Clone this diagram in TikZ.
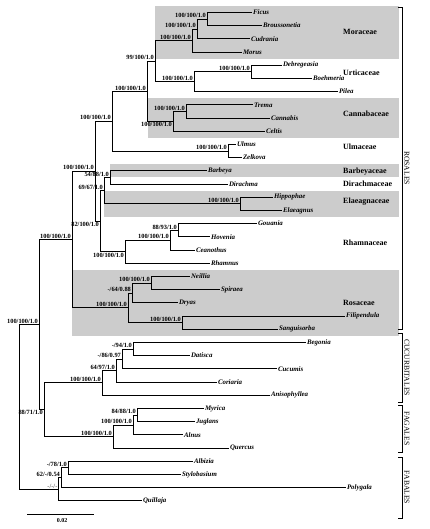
\documentclass[tikz,border=0pt]{standalone}
\usepackage{fontspec}
\setmainfont{Liberation Serif}
\usetikzlibrary{positioning}
\tikzstyle{taxon} = [
	anchor=west,
	inner sep=0.8pt,
	font=\fontsize{6.9}{7}\selectfont\bfseries\itshape
]
\tikzstyle{support} = [
	anchor=south east,
	inner sep=0.9pt,
	font=\fontsize{6.4}{7}\selectfont\bfseries
]
\tikzstyle{supportlow} = [support, anchor=north east]
\tikzstyle{famname} = [anchor=west, inner sep=0pt, font=\fontsize{8}{9}\selectfont\bfseries]
\tikzstyle{ordname} = [anchor=south, rotate=-90, inner sep=0.6pt, font=\fontsize{7.6}{8}\selectfont]
\tikzstyle{cladebox} = [fill=black!20, draw=none]
\tikzstyle{branch} = [line width=0.75pt]
\tikzstyle{ordbracket} = [line width=0.75pt]

\begin{document}
\begin{tikzpicture}[x=1pt, y=-1pt]
	\useasboundingbox (0,0) rectangle (429,529);

	\fill[cladebox] (155,6) rectangle (399,58.6);
	\fill[cladebox] (148,98.2) rectangle (399,137.8);
	\fill[cladebox] (110,164.2) rectangle (399,177.4);
	\fill[cladebox] (104,190.6) rectangle (399,217);
	\fill[cladebox] (72,269.8) rectangle (399,335.8);

	\node[taxon, name = Ficus] at (252,12.4) {Ficus};
	\node[taxon, name = Broussonetia] at (262,25.6) {Broussonetia};
	\node[taxon, name = Cudrania] at (250,38.8) {Cudrania};
	\node[taxon, name = Morus] at (242,52.0) {Morus};
	\node[taxon, name = Debregeasia] at (282,65.2) {Debregeasia};
	\node[taxon, name = Boehmeria] at (312,78.4) {Boehmeria};
	\node[taxon, name = Pilea] at (338,91.6) {Pilea};
	\node[taxon, name = Trema] at (253,104.8) {Trema};
	\node[taxon, name = Cannabis] at (270,118.0) {Cannabis};
	\node[taxon, name = Celtis] at (265,131.2) {Celtis};
	\node[taxon, name = Ulmus] at (236,144.4) {Ulmus};
	\node[taxon, name = Zelkova] at (242,157.6) {Zelkova};
	\node[taxon, name = Barbeya] at (207,170.8) {Barbeya};
	\node[taxon, name = Dirachma] at (228,184.0) {Dirachma};
	\node[taxon, name = Hippophae] at (273,197.2) {Hippophae};
	\node[taxon, name = Elaeagnus] at (282,210.4) {Elaeagnus};
	\node[taxon, name = Gouania] at (257,223.6) {Gouania};
	\node[taxon, name = Hovenia] at (210,236.8) {Hovenia};
	\node[taxon, name = Ceanothus] at (195,250.0) {Ceanothus};
	\node[taxon, name = Rhamnus] at (210,263.2) {Rhamnus};
	\node[taxon, name = Neillia] at (190,276.4) {Neillia};
	\node[taxon, name = Spiraea] at (220,289.6) {Spiraea};
	\node[taxon, name = Dryas] at (178,302.8) {Dryas};
	\node[taxon, name = Filipendula] at (345,316.0) {Filipendula};
	\node[taxon, name = Sanguisorba] at (278,329.2) {Sanguisorba};
	\node[taxon, name = Begonia] at (306,342.4) {Begonia};
	\node[taxon, name = Datisca] at (190,355.6) {Datisca};
	\node[taxon, name = Cucumis] at (277,368.8) {Cucumis};
	\node[taxon, name = Coriaria] at (217,382.0) {Coriaria};
	\node[taxon, name = Anisophyllea] at (270,395.2) {Anisophyllea};
	\node[taxon, name = Myrica] at (204,408.4) {Myrica};
	\node[taxon, name = Juglans] at (195,421.6) {Juglans};
	\node[taxon, name = Alnus] at (183,434.8) {Alnus};
	\node[taxon, name = Quercus] at (229,448.0) {Quercus};
	\node[taxon, name = Albizia] at (193,461.2) {Albizia};
	\node[taxon, name = Stylobasium] at (181,474.4) {Stylobasium};
	\node[taxon, name = Polygala] at (346,487.6) {Polygala};
	\node[taxon, name = Quillaja] at (142,500.8) {Quillaja};

	\coordinate (nFB) at (207,19.0);
	\coordinate (nFBC) at (197,28.9);
	\coordinate (nMor) at (192,40.45);
	\coordinate (nDB) at (251,71.8);
	\coordinate (nUrt) at (194,81.7);
	\coordinate (nMU) at (155,61.1);
	\coordinate (nTC) at (186,111.4);
	\coordinate (nCan) at (173,121.3);
	\coordinate (nMUC) at (147,91.2);
	\coordinate (nUlm) at (228,151.0);
	\coordinate (nMUCU) at (112,121.1);
	\coordinate (nBD) at (110,177.4);
	\coordinate (nEla) at (240,203.8);
	\coordinate (nBDE) at (104,190.6);
	\coordinate (nGH) at (178,230.2);
	\coordinate (nGHC) at (170,240.1);
	\coordinate (nRha) at (125,251.65);
	\coordinate (nX) at (100,221.1);
	\coordinate (nA) at (95,171.1);
	\coordinate (nNS) at (151,283.0);
	\coordinate (nNSD) at (132,292.9);
	\coordinate (nFS) at (182,322.6);
	\coordinate (nRos) at (128,307.75);
	\coordinate (nRosales) at (72,239.4);
	\coordinate (nBeD) at (133,349.0);
	\coordinate (nBDCu) at (122,358.9);
	\coordinate (nBDCC) at (116,370.45);
	\coordinate (nCuc) at (102,382.8);
	\coordinate (nMJ) at (137,415.0);
	\coordinate (nMJA) at (133,424.9);
	\coordinate (nFag) at (113,436.45);
	\coordinate (nCF) at (44,409.6);
	\coordinate (nB) at (39,324.5);
	\coordinate (nAS) at (68,467.8);
	\coordinate (nASP) at (61,477.7);
	\coordinate (nFab) at (58.5,489.25);
	\coordinate (root) at (19,406.9);

	\draw[branch] (nFB) |- (Ficus.west);
	\draw[branch] (nFB) |- (Broussonetia.west);
	\draw[branch] (nFBC) |- (nFB);
	\draw[branch] (nFBC) |- (Cudrania.west);
	\draw[branch] (nMor) |- (nFBC);
	\draw[branch] (nMor) |- (Morus.west);
	\draw[branch] (nDB) |- (Debregeasia.west);
	\draw[branch] (nDB) |- (Boehmeria.west);
	\draw[branch] (nUrt) |- (nDB);
	\draw[branch] (nUrt) |- (Pilea.west);
	\draw[branch] (nMU) |- (nMor);
	\draw[branch] (nMU) |- (nUrt);
	\draw[branch] (nTC) |- (Trema.west);
	\draw[branch] (nTC) |- (Cannabis.west);
	\draw[branch] (nCan) |- (nTC);
	\draw[branch] (nCan) |- (Celtis.west);
	\draw[branch] (nMUC) |- (nMU);
	\draw[branch] (nMUC) |- (nCan);
	\draw[branch] (nUlm) |- (Ulmus.west);
	\draw[branch] (nUlm) |- (Zelkova.west);
	\draw[branch] (nMUCU) |- (nMUC);
	\draw[branch] (nMUCU) |- (nUlm);
	\draw[branch] (nBD) |- (Barbeya.west);
	\draw[branch] (nBD) |- (Dirachma.west);
	\draw[branch] (nEla) |- (Hippophae.west);
	\draw[branch] (nEla) |- (Elaeagnus.west);
	\draw[branch] (nBDE) |- (nBD);
	\draw[branch] (nBDE) |- (nEla);
	\draw[branch] (nGH) |- (Gouania.west);
	\draw[branch] (nGH) |- (Hovenia.west);
	\draw[branch] (nGHC) |- (nGH);
	\draw[branch] (nGHC) |- (Ceanothus.west);
	\draw[branch] (nRha) |- (nGHC);
	\draw[branch] (nRha) |- (Rhamnus.west);
	\draw[branch] (nX) |- (nBDE);
	\draw[branch] (nX) |- (nRha);
	\draw[branch] (nA) |- (nMUCU);
	\draw[branch] (nA) |- (nX);
	\draw[branch] (nNS) |- (Neillia.west);
	\draw[branch] (nNS) |- (Spiraea.west);
	\draw[branch] (nNSD) |- (nNS);
	\draw[branch] (nNSD) |- (Dryas.west);
	\draw[branch] (nFS) |- (Filipendula.west);
	\draw[branch] (nFS) |- (Sanguisorba.west);
	\draw[branch] (nRos) |- (nNSD);
	\draw[branch] (nRos) |- (nFS);
	\draw[branch] (nRosales) |- (nA);
	\draw[branch] (nRosales) |- (nRos);
	\draw[branch] (nBeD) |- (Begonia.west);
	\draw[branch] (nBeD) |- (Datisca.west);
	\draw[branch] (nBDCu) |- (nBeD);
	\draw[branch] (nBDCu) |- (Cucumis.west);
	\draw[branch] (nBDCC) |- (nBDCu);
	\draw[branch] (nBDCC) |- (Coriaria.west);
	\draw[branch] (nCuc) |- (nBDCC);
	\draw[branch] (nCuc) |- (Anisophyllea.west);
	\draw[branch] (nMJ) |- (Myrica.west);
	\draw[branch] (nMJ) |- (Juglans.west);
	\draw[branch] (nMJA) |- (nMJ);
	\draw[branch] (nMJA) |- (Alnus.west);
	\draw[branch] (nFag) |- (nMJA);
	\draw[branch] (nFag) |- (Quercus.west);
	\draw[branch] (nCF) |- (nCuc);
	\draw[branch] (nCF) |- (nFag);
	\draw[branch] (nB) |- (nRosales);
	\draw[branch] (nB) |- (nCF);
	\draw[branch] (nAS) |- (Albizia.west);
	\draw[branch] (nAS) |- (Stylobasium.west);
	\draw[branch] (nASP) |- (nAS);
	\draw[branch] (nASP) |- (Polygala.west);
	\draw[branch] (nFab) |- (nASP);
	\draw[branch] (nFab) |- (Quillaja.west);
	\draw[branch] (root) |- (nB);
	\draw[branch] (root) |- (nFab);

	\node[support, name = sFB] at (nFB) {100/100/1.0};
	\node[support, name = sFBC] at (nFBC) {100/100/1.0};
	\node[support, name = sMor] at (nMor) {100/100/1.0};
	\node[support, name = sDB] at (nDB) {100/100/1.0};
	\node[support, name = sUrt] at (nUrt) {100/100/1.0};
	\node[support, name = sMU] at (nMU) {99/100/1.0};
	\node[support, name = sTC] at (nTC) {100/100/1.0};
	\node[supportlow, name = sCan] at (nCan) {100/100/1.0};
	\node[support, name = sMUC] at (nMUC) {100/100/1.0};
	\node[support, name = sUlm] at (nUlm) {100/100/1.0};
	\node[support, name = sMUCU] at (nMUCU) {100/100/1.0};
	\node[support, name = sBD] at (nBD) {54/88/1.0};
	\node[support, name = sEla] at (nEla) {100/100/1.0};
	\node[support, name = sBDE] at (nBDE) {69/67/1.0};
	\node[support, name = sGH] at (nGH) {88/93/1.0};
	\node[support, name = sGHC] at (nGHC) {100/100/1.0};
	\node[supportlow, name = sRha] at (nRha) {100/100/1.0};
	\node[supportlow, name = sX] at (nX) {82/100/1.0};
	\node[support, name = sA] at (nA) {100/100/1.0};
	\node[support, name = sNS] at (nNS) {100/100/1.0};
	\node[support, name = sNSD] at (nNSD) {-/64/0.88};
	\node[support, name = sFS] at (nFS) {100/100/1.0};
	\node[support, name = sRos] at (nRos) {100/100/1.0};
	\node[support, name = sRosales] at (nRosales) {100/100/1.0};
	\node[support, name = sBeD] at (nBeD) {-/94/1.0};
	\node[support, name = sBDCu] at (nBDCu) {-/86/0.97};
	\node[support, name = sBDCC] at (nBDCC) {64/97/1.0};
	\node[support, name = sCuc] at (nCuc) {100/100/1.0};
	\node[support, name = sMJ] at (nMJ) {84/88/1.0};
	\node[support, name = sMJA] at (nMJA) {100/100/1.0};
	\node[support, name = sFag] at (nFag) {100/100/1.0};
	\node[supportlow, name = sCF] at (nCF) {88/71/1.0};
	\node[support, name = sB] at (nB) {100/100/1.0};
	\node[support, name = sAS] at (nAS) {-/78/1.0};
	\node[support, name = sASP] at (nASP) {62/-/0.54};
	\node[support, name = sFab, text=black!60] at (nFab) {-/-/-};

	\node[famname, name = Moraceae] at (343,32) {Moraceae};
	\node[famname, name = Urticaceae] at (343,73) {Urticaceae};
	\node[famname, name = Cannabaceae] at (343,114) {Cannabaceae};
	\node[famname, name = Ulmaceae] at (343,147) {Ulmaceae};
	\node[famname, name = Barbeyaceae] at (343,172) {Barbeyaceae};
	\node[famname, name = Dirachmaceae] at (343,184) {Dirachmaceae};
	\node[famname, name = Elaeagnaceae] at (343,202) {Elaeagnaceae};
	\node[famname, name = Rhamnaceae] at (343,243) {Rhamnaceae};
	\node[famname, name = Rosaceae] at (343,303) {Rosaceae};

	\draw[ordbracket] (398,7) -- (402,7) -- (402,329) -- (398,329);
	\draw[ordbracket] (398,333) -- (402,333) -- (402,402) -- (398,402);
	\draw[ordbracket] (398,405) -- (402,405) -- (402,452) -- (398,452);
	\draw[ordbracket] (398,457) -- (402,457) -- (402,518) -- (398,518);
	\node[ordname, name = Rosales] at (403.5,168) {ROSALES};
	\node[ordname, name = Cucurbitales] at (403.5,367.5) {CUCURBITALES};
	\node[ordname, name = Fagales] at (403.5,428.5) {FAGALES};
	\node[ordname, name = Fabales] at (403.5,487.5) {FABALES};

	\coordinate (scaleL) at (27,514);
	\coordinate (scaleR) at (94,514);
	\draw[branch] (scaleL) -- (scaleR);
	\node[font=\fontsize{6}{7}\selectfont\bfseries, name = scaleval] at (62,521) {0.02};
\end{tikzpicture}
\end{document}
